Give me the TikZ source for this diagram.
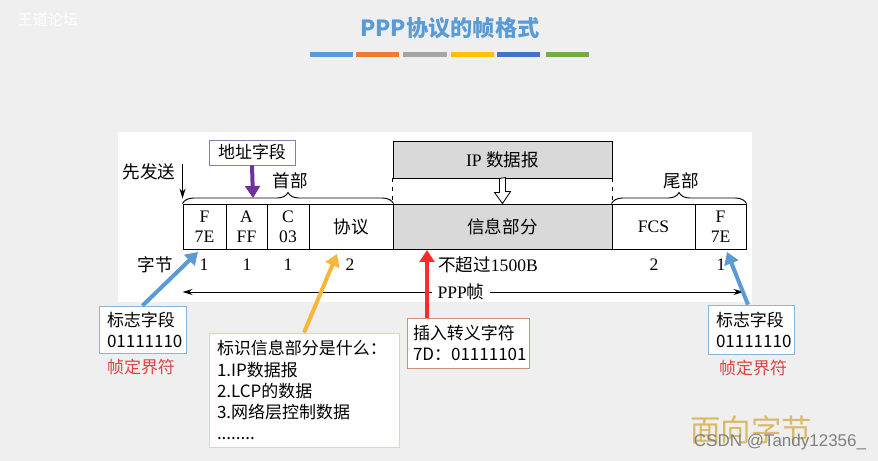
\documentclass[tikz,border=0pt]{standalone}
\usepackage{fontspec}
\setmainfont{Liberation Serif}
\setsansfont{Liberation Sans}
\newfontfamily\cjk{Noto Sans CJK SC}
\usetikzlibrary{arrows.meta, decorations.pathreplacing, calc}

\definecolor{bg}{HTML}{EFEFEF}
\definecolor{titleblue}{HTML}{5B9BD5}
\definecolor{barA}{HTML}{5B9BD5}
\definecolor{barB}{HTML}{ED7D31}
\definecolor{barC}{HTML}{A5A5A5}
\definecolor{barD}{HTML}{FFC000}
\definecolor{barE}{HTML}{4472C4}
\definecolor{barF}{HTML}{70AD47}
\definecolor{flagblue}{HTML}{5B9BD5}
\definecolor{addrpurple}{HTML}{7030A0}
\definecolor{protoyellow}{HTML}{F6B63A}
\definecolor{escred}{HTML}{FF2A2A}
\definecolor{delimred}{HTML}{DD4444}
\definecolor{flagline}{HTML}{8DB3D6}
\definecolor{yellowline}{HTML}{F0D48A}
\definecolor{redline}{HTML}{C8957A}
\definecolor{addrline}{HTML}{8A7CA6}
\definecolor{infogray}{HTML}{D9D9D9}
\definecolor{mark}{HTML}{D4A93C}

\newlength\pxu
\setlength\pxu{0.03cm}

\begin{document}
\begin{tikzpicture}[x=0.03cm, y=-0.03cm,
  field/.style={draw, line width=0.8pt, inner sep=0pt, minimum height=45*\pxu, align=center, font=\fontsize{15}{17}\selectfont},
  plain/.style={inner sep=0pt, font=\fontsize{15}{17}\selectfont},
  note/.style={draw, line width=0.7pt, fill=white, align=left, inner ysep=0pt, inner xsep=8*\pxu, font=\cjk\fontsize{14.5}{18}\selectfont},
  hbrace/.style={decorate, decoration={brace, amplitude=3.3mm}, line width=0.8pt},
  fatarrow/.style={line width=1.2mm, -{Triangle[length=3.6mm, width=4.4mm]}},
  sendarrow/.style={line width=0.8pt, -{Stealth[length=3mm, width=1.8mm]}}
]
  \useasboundingbox (0,0) rectangle (878,461);
  \fill[bg] (0,0) rectangle (878,461);
  \fill[white] (118,132) rectangle (752,302);

  % title and colour bars
  \node[text=white, font=\cjk\fontsize{13}{15}\selectfont] (site) at (48,20) {王道论坛};
  \node[text=titleblue, font=\cjk\bfseries\fontsize{19}{22}\selectfont] (title) at (450,28) {PPP协议的帧格式};
  \fill[barA] (310,52) rectangle (353,57);
  \fill[barB] (356,52) rectangle (399,57);
  \fill[barC] (403,52) rectangle (447,57);
  \fill[barD] (451,52) rectangle (494,57);
  \fill[barE] (497,52) rectangle (540,57);
  \fill[barF] (546,52) rectangle (589,57);

  % the frame
  \node[field, minimum width=43*\pxu] (f1) at (204.5,226.5) {F\\7E};
  \node[field, minimum width=41*\pxu] (a) at (246.5,226.5) {A\\FF};
  \node[field, minimum width=42*\pxu] (c) at (288,226.5) {C\\03};
  \node[field, minimum width=84*\pxu] (proto) at (351,226.5) {\cjk 协议};
  \node[field, minimum width=219*\pxu, fill=infogray] (info) at (502.5,226.5) {\cjk 信息部分};
  \node[field, minimum width=83*\pxu] (fcs) at (653.5,226.5) {FCS};
  \node[field, minimum width=51*\pxu] (f2) at (720.5,226.5) {F\\7E};

  \node[field, minimum width=219*\pxu, minimum height=37*\pxu, fill=infogray] (ip) at (502.5,159.5) {IP {\cjk 数据报}};
  \draw[dashed, dash pattern=on 1.2mm off 1.5mm, line width=0.7pt] (ip.south west) -- (info.north west);
  \draw[dashed, dash pattern=on 1.2mm off 1.5mm, line width=0.7pt] (ip.south east) -- (info.north east);
  \draw[line width=0.7pt, fill=white] ($(ip.south)+(-3,0)$) -- ++(0,14) -- ++(-5,0) -- (info.north)
    -- ++(8,-12) -- ++(-5,0) -- ++(0,-14) -- cycle;

  \draw[hbrace] (f1.north west) -- (proto.north east);
  \draw[hbrace] (fcs.north west) -- (f2.north east);
  \node[plain] (head) at (290,181) {\cjk 首部};
  \node[plain] (tail) at (681,181) {\cjk 尾部};

  \node[plain] (send) at (149,172) {\cjk 先发送};
  \draw[sendarrow] (f1.north west |- send.north) -- ($(f1.north west)+(0,-5)$);

  \node[draw=addrline, line width=0.7pt, fill=white, minimum width=86*\pxu, minimum height=25*\pxu, inner sep=0pt, font=\cjk\fontsize{14.5}{17}\selectfont] (addr) at (252,152.5) {地址字段};

  % byte counts
  \node[plain] (bytes) at (155,265) {\cjk 字节};
  \node[plain] (n1) at (204,265) {1};
  \node[plain] (n2) at (247,265) {1};
  \node[plain] (n3) at (288,265) {1};
  \node[plain] (n4) at (350,265) {2};
  \node[plain] (n5) at (488,265) {{\cjk 不超过}1500B};
  \node[plain] (n6) at (654,265) {2};
  \node[plain] (n7) at (721,265) {1};

  \node[plain, inner xsep=1.6mm] (ppp) at (461,292) {PPP{\cjk 帧}};
  \draw[sendarrow] (ppp.west) -- (f1.west |- ppp);
  \draw[sendarrow] (ppp.east) -- ($(f2.east |- ppp)+(-3,0)$);

  % notes
  \node[note, draw=flagline, text width=71*\pxu, minimum height=47*\pxu] (lflag) at (142.5,329.5) {标志字段\\01111110};
  \node[note, draw=flagline, text width=70*\pxu, minimum height=49*\pxu] (rflag) at (751,329.5) {标志字段\\01111110};
  \node[text=delimred, font=\cjk\fontsize{14.5}{17}\selectfont] (ldelim) at (141,367) {帧定界符};
  \node[text=delimred, font=\cjk\fontsize{14.5}{17}\selectfont] (rdelim) at (753,368) {帧定界符};
  \node[note, draw=yellowline, text width=174*\pxu, minimum height=114*\pxu] (ynote) at (304,390) {标识信息部分是什么：\\1.IP数据报\\2.LCP的数据\\3.网络层控制数据\\........};
  \node[note, draw=redline, text width=110*\pxu, inner xsep=6*\pxu, minimum height=50*\pxu] (rnote) at (468,343) {插入转义字符\\7D：01111101};

  \coordinate (ltip) at (198,252);
  \coordinate (rtip) at (727,252);
  \coordinate (ytip) at (337,254);
  \coordinate (etip) at (427,250);
  \coordinate (atip) at (253,198);
  \draw[fatarrow, flagblue] (lflag.north) -- (ltip);
  \draw[fatarrow, flagblue] ($(rflag.north)+(-3,0)$) -- (rtip);
  \draw[fatarrow, protoyellow] (ynote.north) -- (ytip);
  \draw[fatarrow, escred] (rnote.north -| etip) -- (etip);
  \draw[fatarrow, addrpurple] (addr.south) -- (atip);

  % watermark
  \node[text=mark, opacity=0.75, font=\cjk\fontsize{26}{28}\selectfont] (book) at (751,430) {面向字节};
  \node[text=gray, font=\sffamily\fontsize{14.5}{16}\selectfont] (csdn) at (780,442) {CSDN @Tandy12356\_};
\end{tikzpicture}
\end{document}
